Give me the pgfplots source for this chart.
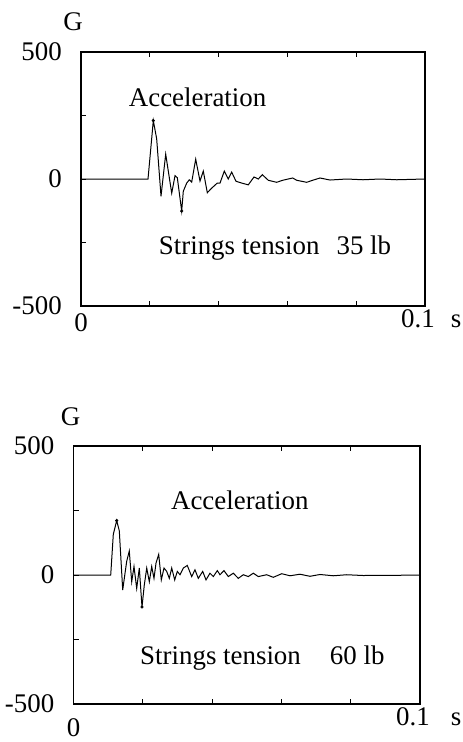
\documentclass[border=0pt]{standalone}
\usepackage{fontspec}
\setmainfont{Liberation Serif}
\usepackage{pgfplots}
\pgfplotsset{compat=1.18}

% acceleration trace, 35 lb strings (time s, G)
\pgfplotstableread{
t G
0 0
0.01948 0
0.02102 230
0.02200 158
0.02326 -68
0.02462 98
0.02637 -56
0.02733 13
0.02800 5
0.02927 -126
0.02974 -48
0.03073 -16
0.03148 -3
0.03218 -12
0.03334 78
0.03459 -8
0.03555 31
0.03672 -54
0.03799 -36
0.03962 -16
0.04041 -16
0.04166 31
0.04282 0
0.04381 27
0.04506 -9
0.04672 -16
0.04863 -23
0.05029 8
0.05154 0
0.05270 17
0.05445 -5
0.05689 -13
0.05863 -5
0.06154 4
0.06270 -5
0.06561 -13
0.06735 -5
0.06948 4
0.07238 -4
0.07724 0
0.08198 -3
0.08692 0
0.09177 -3
0.1 0
}\tensionA

% acceleration trace, 60 lb strings
\pgfplotstableread{
t G
0 0
0.01074 0
0.01149 158
0.01247 211
0.01322 171
0.01420 -58
0.01535 53
0.01610 93
0.01680 -26
0.01746 33
0.01824 -52
0.01899 27
0.01977 -124
0.02043 -39
0.02113 27
0.02188 -26
0.02257 33
0.02323 -13
0.02381 46
0.02459 80
0.02534 -19
0.02612 27
0.02690 14
0.02765 -13
0.02834 27
0.02921 -19
0.02996 14
0.03074 1
0.03169 27
0.03284 37
0.03411 -6
0.03506 20
0.03602 -13
0.03729 14
0.03824 -19
0.03939 7
0.04035 -6
0.04150 17
0.04228 1
0.04343 17
0.04468 -6
0.04612 7
0.04756 -13
0.04900 1
0.05045 -6
0.05189 7
0.05333 -6
0.05576 1
0.05766 -9
0.06009 5
0.06248 -3
0.06537 3
0.06825 -5
0.07114 2
0.07498 -3
0.07885 1
0.08364 -2
0.08846 -1
0.09423 -1
0.1 0
}\tensionB

\pgfplotsset{
  accel/.style={
    scale only axis,
    xmin=0, xmax=0.1, ymin=-500, ymax=500,
    font=\fontsize{27}{32}\selectfont,
    axis line style={line width=1.2bp},
    tick style={line width=0.9bp, black},
    major tick length=5bp,
    tick align=inside,
    xtick={0,0.02,0.04,0.06,0.08,0.1},
    xticklabels={},
    ytick={-500,-250,0,250,500},
    yticklabels={-500,,0,,500},
    ytick pos=left,
    yticklabel style={anchor=east, inner sep=0pt, xshift=-19bp},
    clip=false,
  },
  trace/.style={black, line width=1bp},
}

\begin{document}
\begin{tikzpicture}
\useasboundingbox (0,0) rectangle (463bp,-742bp);

\begin{axis}[accel, width=344bp, height=254bp, at={(81bp,-306bp)}, anchor=south west]
\addplot[trace] table[x=t, y=G] {\tensionA};
\addplot[only marks, mark=*, mark size=1.4bp, black] coordinates {(0.02102,230) (0.02927,-126)};
\node[inner sep=0pt] at (rel axis cs:0,1) [xshift=-8bp, yshift=30bp] {G};
\node[inner sep=0pt, anchor=base] at (rel axis cs:0,0) [yshift=-25bp] {0};
\node[inner sep=0pt, anchor=base] at (rel axis cs:1,0) [xshift=-7bp, yshift=-21bp] {0.1};
\node[inner sep=0pt, anchor=base] at (rel axis cs:1,0) [xshift=31bp, yshift=-21bp] {s};
\node at (rel axis cs:0.339,0.823) {Acceleration};
\node at (rel axis cs:0.564,0.228) {Strings tension\hspace{17bp}35 lb};
\end{axis}

\begin{axis}[accel, width=346.5bp, height=258bp, at={(73.5bp,-704bp)}, anchor=south west]
\addplot[trace] table[x=t, y=G] {\tensionB};
\addplot[only marks, mark=*, mark size=1.4bp, black] coordinates {(0.01247,211) (0.01977,-124)};
\node[inner sep=0pt] at (rel axis cs:0,1) [xshift=-3bp, yshift=29bp] {G};
\node[inner sep=0pt, anchor=base] at (rel axis cs:0,0) [yshift=-32bp] {0};
\node[inner sep=0pt, anchor=base] at (rel axis cs:1,0) [xshift=-7bp, yshift=-21bp] {0.1};
\node[inner sep=0pt, anchor=base] at (rel axis cs:1,0) [xshift=36bp, yshift=-21bp] {s};
\node at (rel axis cs:0.48,0.79) {Acceleration};
\node at (rel axis cs:0.545,0.178) {Strings tension\hspace{29bp}60 lb};
\end{axis}
\end{tikzpicture}
\end{document}
